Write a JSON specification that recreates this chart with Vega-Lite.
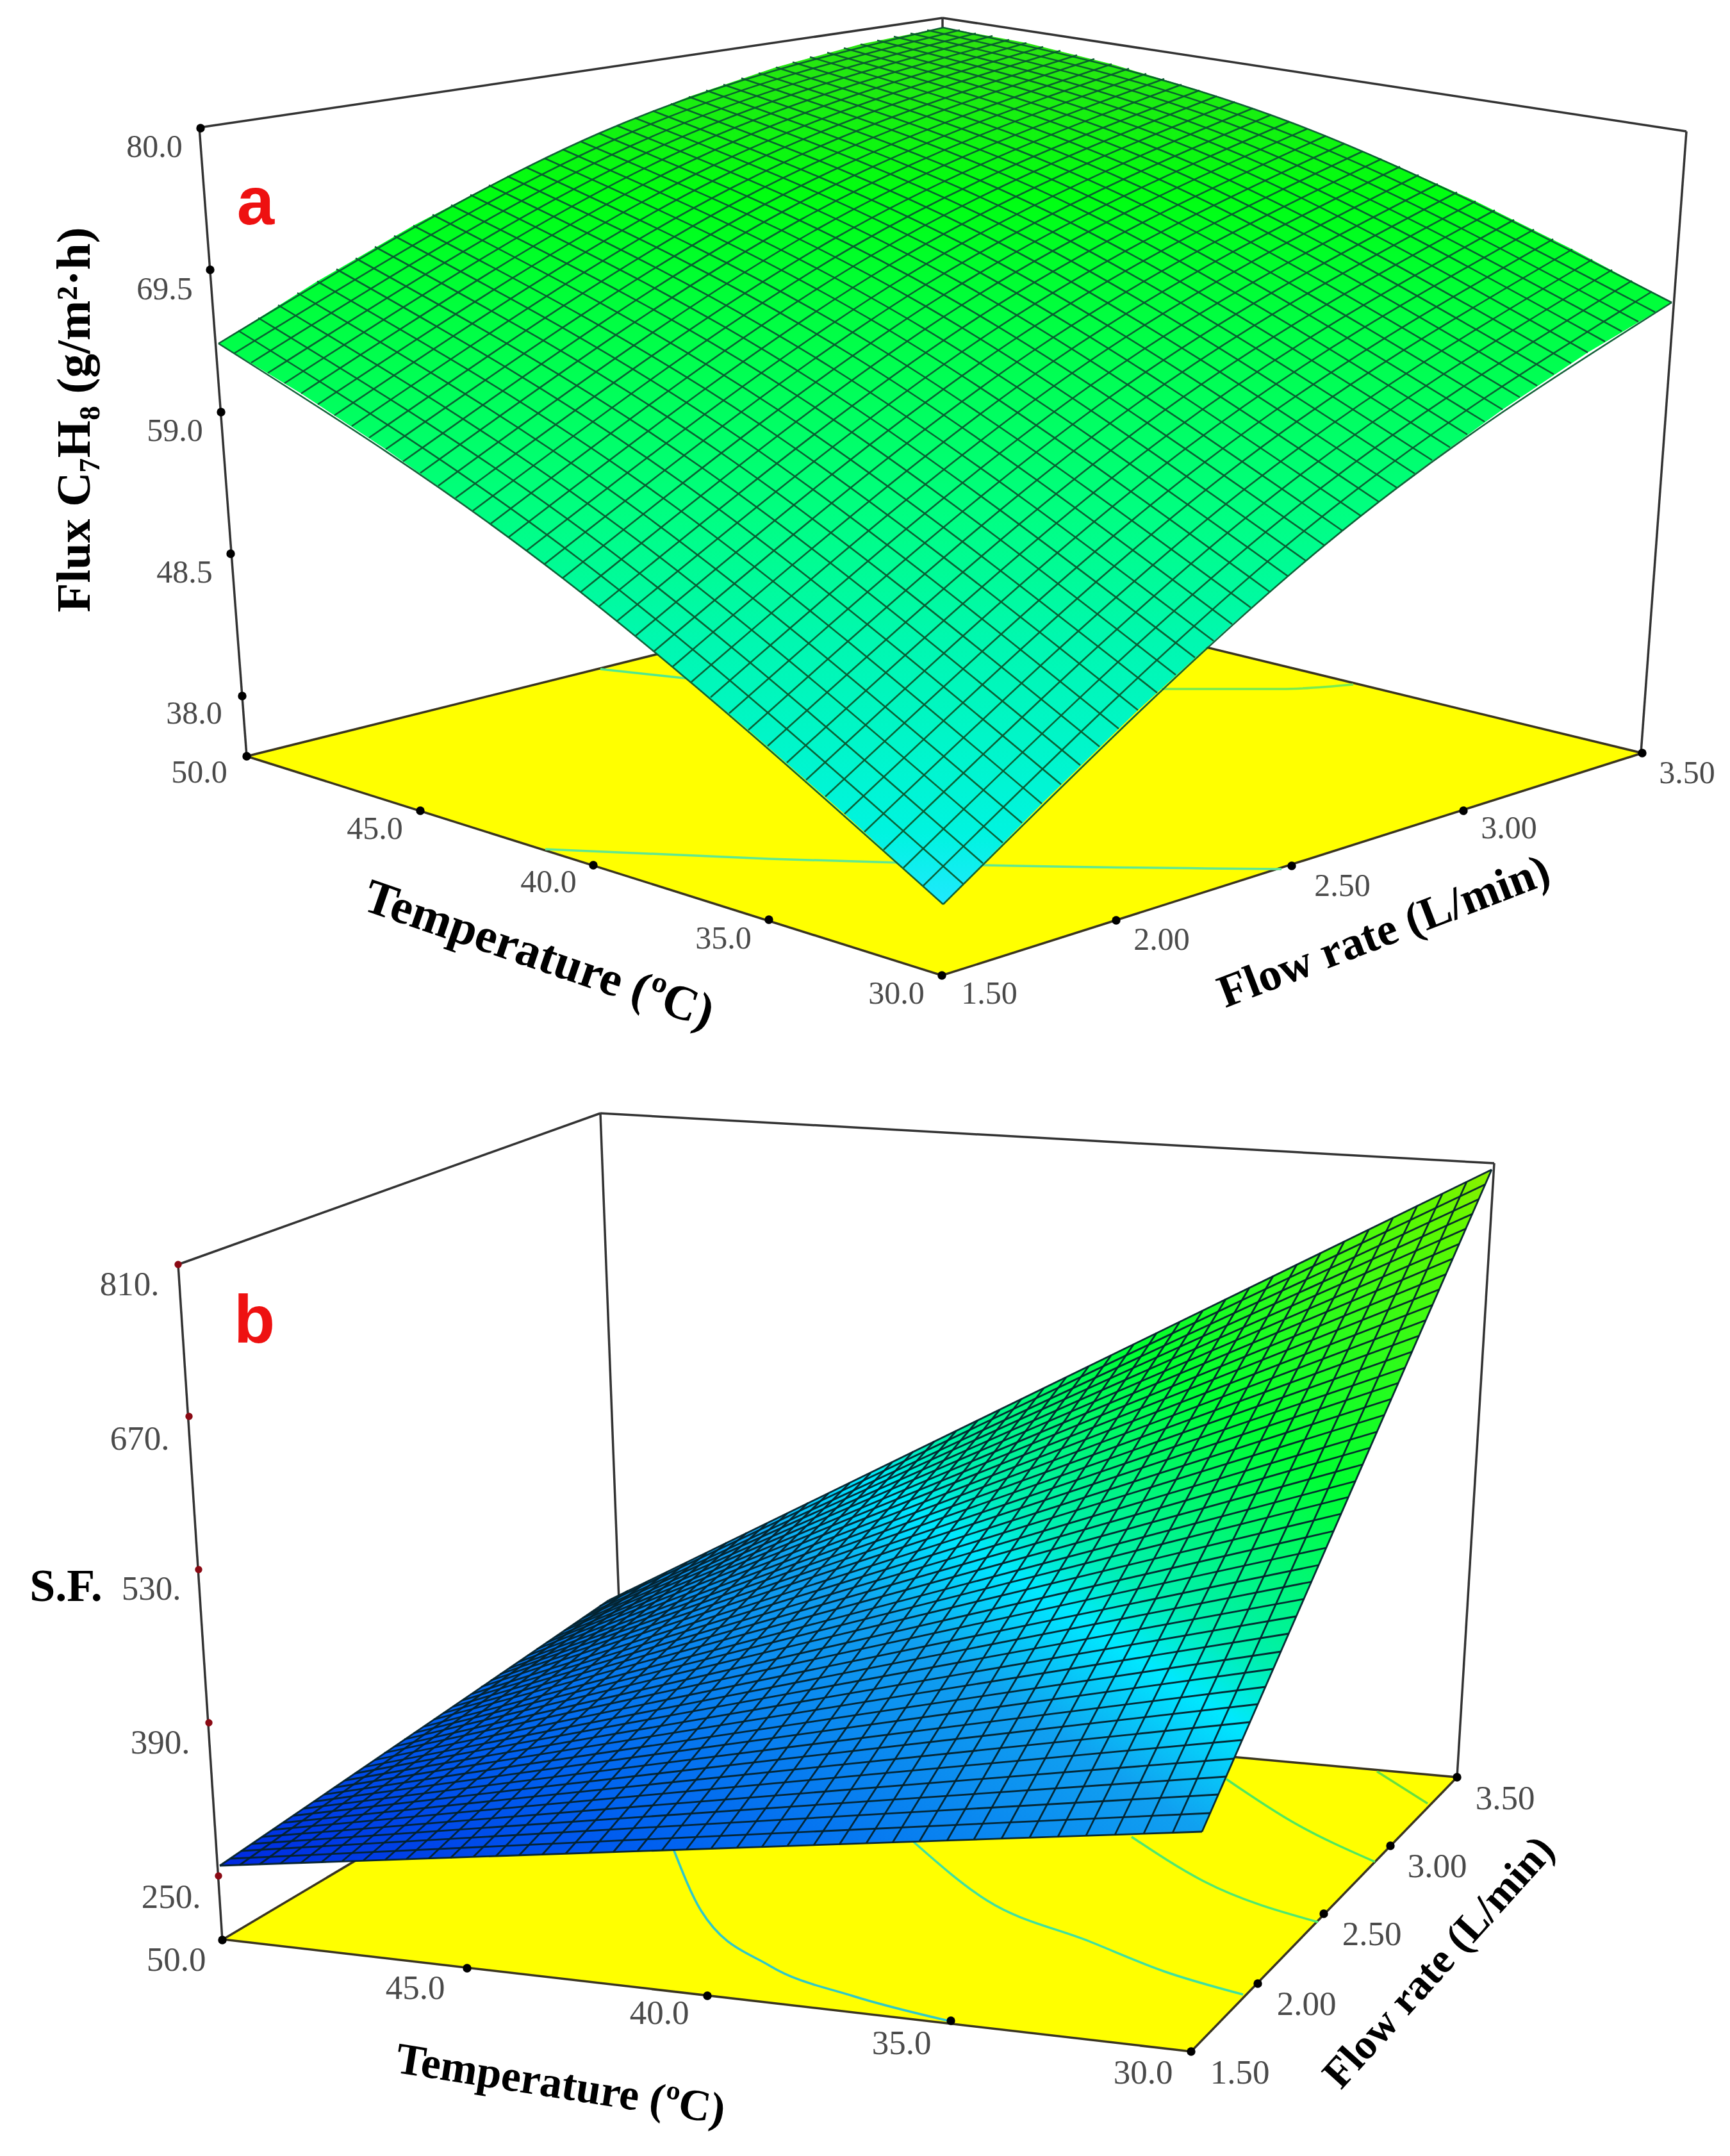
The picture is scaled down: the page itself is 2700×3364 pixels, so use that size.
{
"$schema":"https://vega.github.io/schema/vega-lite/v6.json",
"width":2700,"height":3364,"autosize":{"type":"fit","contains":"padding"},"padding":0,"background":"white",
"config":{"view":{"stroke":null}},
"datasets":{
"box":[
{"l":1,"x":311,"y":199},{"l":1,"x":385,"y":1180},
{"l":2,"x":311,"y":199},{"l":2,"x":1471,"y":28},
{"l":3,"x":1471,"y":28},{"l":3,"x":2632,"y":205},
{"l":4,"x":2632,"y":205},{"l":4,"x":2561,"y":1175},
{"l":5,"x":1471,"y":28},{"l":5,"x":1471,"y":910},
{"l":6,"x":278,"y":1973},{"l":6,"x":347,"y":3027},
{"l":7,"x":278,"y":1973},{"l":7,"x":937,"y":1737},
{"l":8,"x":937,"y":1737},{"l":8,"x":2332,"y":1815},
{"l":9,"x":2332,"y":1815},{"l":9,"x":2274,"y":2773},
{"l":10,"x":937,"y":1737},{"l":10,"x":972,"y":2655}],
"floor":[
{"l":1,"x":385,"y":1180},{"l":1,"x":1471,"y":910},{"l":1,"x":2563,"y":1175},{"l":1,"x":1470,"y":1522},{"l":1,"x":385,"y":1180},
{"l":2,"x":348,"y":3026},{"l":2,"x":972,"y":2655},{"l":2,"x":2274,"y":2773},{"l":2,"x":1859,"y":3201},{"l":2,"x":348,"y":3026}],
"contour":[
{"l":"a1","x":851,"y":1325},{"l":"a1","x":1200,"y":1340},{"l":"a1","x":1538,"y":1350},{"l":"a1","x":2000,"y":1356},
{"l":"a2","x":937,"y":1044},{"l":"a2","x":1105,"y":1062},
{"l":"a3","x":1813,"y":1075},{"l":"a3","x":2000,"y":1075},{"l":"a3","x":2112,"y":1068},
{"l":"b1","x":1051,"y":2885},{"l":"b1","x":1094,"y":2981},{"l":"b1","x":1201,"y":3067},{"l":"b1","x":1330,"y":3114},{"l":"b1","x":1480,"y":3153},
{"l":"b2","x":1426,"y":2874},{"l":"b2","x":1540,"y":2965},{"l":"b2","x":1700,"y":3029},{"l":"b2","x":1817,"y":3076},{"l":"b2","x":1940,"y":3112},
{"l":"b3","x":1766,"y":2866},{"l":"b3","x":1878,"y":2935},{"l":"b3","x":2057,"y":2999},
{"l":"b4","x":1914,"y":2776},{"l":"b4","x":2016,"y":2842},{"l":"b4","x":2146,"y":2905},
{"l":"b5","x":2149,"y":2764},{"l":"b5","x":2228,"y":2814}],
"outlineA":[{"x":341,"y":536},{"x":495,"y":439},{"x":645,"y":352},{"x":792,"y":275},{"x":935,"y":208},{"x":1075,"y":151},{"x":1211,"y":105},{"x":1343,"y":69},{"x":1472,"y":43},{"x":1602,"y":67},{"x":1735,"y":100},{"x":1872,"y":141},{"x":2012,"y":190},{"x":2156,"y":248},{"x":2303,"y":314},{"x":2454,"y":389},{"x":2609,"y":472},{"x":2478,"y":550},{"x":2345,"y":639},{"x":2208,"y":739},{"x":2067,"y":851},{"x":1923,"y":974},{"x":1776,"y":1108},{"x":1626,"y":1254},{"x":1472,"y":1411},{"x":1318,"y":1270},{"x":1168,"y":1139},{"x":1021,"y":1016},{"x":878,"y":902},{"x":738,"y":797},{"x":602,"y":701},{"x":470,"y":614},{"x":341,"y":536}],
"outlineB":[{"x":343,"y":2911},{"x":950,"y":2497},{"x":2328,"y":1825},{"x":1876,"y":2858},{"x":343,"y":2911}],
"meshA":[
{"l":0,"x":[1472,878,341],"y":[1411,902,536]},
{"l":1,"x":[1503,909,372],"y":[1379,876,516]},
{"l":2,"x":[1534,940,403],"y":[1347,850,496]},
{"l":3,"x":[1565,971,434],"y":[1315,825,476]},
{"l":4,"x":[1595,1001,464],"y":[1284,800,457]},
{"l":5,"x":[1626,1032,495],"y":[1254,775,439]},
{"l":6,"x":[1656,1062,525],"y":[1224,751,420]},
{"l":7,"x":[1686,1093,555],"y":[1194,728,403]},
{"l":8,"x":[1716,1123,585],"y":[1165,705,385]},
{"l":9,"x":[1746,1153,615],"y":[1137,682,368]},
{"l":10,"x":[1776,1183,645],"y":[1108,660,352]},
{"l":11,"x":[1806,1212,675],"y":[1081,638,335]},
{"l":12,"x":[1835,1242,704],"y":[1053,616,320]},
{"l":13,"x":[1865,1271,734],"y":[1026,595,304]},
{"l":14,"x":[1894,1300,763],"y":[1000,575,289]},
{"l":15,"x":[1923,1329,792],"y":[974,554,275]},
{"l":16,"x":[1952,1358,821],"y":[948,535,261]},
{"l":17,"x":[1981,1387,850],"y":[923,515,247]},
{"l":18,"x":[2010,1416,878],"y":[899,497,233]},
{"l":19,"x":[2038,1445,907],"y":[875,478,221]},
{"l":20,"x":[2067,1473,935],"y":[851,460,208]},
{"l":21,"x":[2095,1501,963],"y":[828,442,196]},
{"l":22,"x":[2124,1529,991],"y":[805,425,184]},
{"l":23,"x":[2152,1557,1019],"y":[783,409,173]},
{"l":24,"x":[2180,1585,1047],"y":[761,392,162]},
{"l":25,"x":[2208,1613,1075],"y":[739,376,151]},
{"l":26,"x":[2235,1641,1102],"y":[718,361,141]},
{"l":27,"x":[2263,1668,1129],"y":[698,346,132]},
{"l":28,"x":[2290,1695,1157],"y":[678,331,122]},
{"l":29,"x":[2317,1722,1184],"y":[658,317,114]},
{"l":30,"x":[2345,1750,1211],"y":[639,304,105]},
{"l":31,"x":[2372,1776,1237],"y":[620,290,97]},
{"l":32,"x":[2399,1803,1264],"y":[602,277,89]},
{"l":33,"x":[2425,1830,1291],"y":[584,265,82]},
{"l":34,"x":[2452,1856,1317],"y":[567,253,75]},
{"l":35,"x":[2478,1883,1343],"y":[550,241,69]},
{"l":36,"x":[2505,1909,1369],"y":[533,230,63]},
{"l":37,"x":[2531,1935,1395],"y":[517,220,57]},
{"l":38,"x":[2557,1961,1421],"y":[502,209,52]},
{"l":39,"x":[2583,1986,1447],"y":[487,199,47]},
{"l":40,"x":[2609,2012,1472],"y":[472,190,43]},
{"l":100,"x":[1472,2067,2609],"y":[1411,851,472]},
{"l":101,"x":[1441,2036,2578],"y":[1382,828,455]},
{"l":102,"x":[1410,2005,2547],"y":[1354,806,438]},
{"l":103,"x":[1379,1974,2516],"y":[1326,784,421]},
{"l":104,"x":[1349,1944,2485],"y":[1298,762,405]},
{"l":105,"x":[1318,1913,2454],"y":[1270,740,389]},
{"l":106,"x":[1288,1883,2424],"y":[1243,719,373]},
{"l":107,"x":[1258,1853,2394],"y":[1217,698,358]},
{"l":108,"x":[1228,1823,2363],"y":[1190,678,343]},
{"l":109,"x":[1198,1793,2333],"y":[1164,658,328]},
{"l":110,"x":[1168,1763,2303],"y":[1139,638,314]},
{"l":111,"x":[1138,1733,2274],"y":[1113,619,300]},
{"l":112,"x":[1109,1704,2244],"y":[1088,600,287]},
{"l":113,"x":[1079,1675,2214],"y":[1064,581,273]},
{"l":114,"x":[1050,1645,2185],"y":[1040,563,260]},
{"l":115,"x":[1021,1616,2156],"y":[1016,545,248]},
{"l":116,"x":[992,1587,2127],"y":[992,527,236]},
{"l":117,"x":[963,1559,2098],"y":[969,510,224]},
{"l":118,"x":[935,1530,2069],"y":[946,493,212]},
{"l":119,"x":[906,1501,2040],"y":[924,476,201]},
{"l":120,"x":[878,1473,2012],"y":[902,460,190]},
{"l":121,"x":[850,1445,1984],"y":[880,444,179]},
{"l":122,"x":[822,1417,1955],"y":[859,429,169]},
{"l":123,"x":[794,1389,1927],"y":[838,413,159]},
{"l":124,"x":[766,1361,1899],"y":[817,398,150]},
{"l":125,"x":[738,1333,1872],"y":[797,384,141]},
{"l":126,"x":[711,1306,1844],"y":[777,370,132]},
{"l":127,"x":[684,1278,1817],"y":[758,356,123]},
{"l":128,"x":[656,1251,1789],"y":[738,342,115]},
{"l":129,"x":[629,1224,1762],"y":[720,329,107]},
{"l":130,"x":[602,1197,1735],"y":[701,317,100]},
{"l":131,"x":[576,1170,1708],"y":[683,304,92]},
{"l":132,"x":[549,1144,1681],"y":[665,292,86]},
{"l":133,"x":[522,1117,1655],"y":[648,280,79]},
{"l":134,"x":[496,1091,1628],"y":[631,269,73]},
{"l":135,"x":[470,1064,1602],"y":[614,258,67]},
{"l":136,"x":[444,1038,1575],"y":[598,247,62]},
{"l":137,"x":[418,1012,1549],"y":[582,237,56]},
{"l":138,"x":[392,986,1523],"y":[566,227,52]},
{"l":139,"x":[366,961,1498],"y":[551,217,47]},
{"l":140,"x":[341,935,1472],"y":[536,208,43]}],
"meshB":[
{"l":0,"x":[343,1876],"y":[2911,2858]},
{"l":1,"x":[360,1889],"y":[2900,2829]},
{"l":2,"x":[376,1901],"y":[2888,2800]},
{"l":3,"x":[393,1914],"y":[2877,2772]},
{"l":4,"x":[409,1926],"y":[2866,2744]},
{"l":5,"x":[425,1938],"y":[2855,2715]},
{"l":6,"x":[442,1951],"y":[2844,2687]},
{"l":7,"x":[458,1963],"y":[2833,2659]},
{"l":8,"x":[474,1975],"y":[2822,2632]},
{"l":9,"x":[490,1987],"y":[2811,2604]},
{"l":10,"x":[506,1999],"y":[2800,2577]},
{"l":11,"x":[522,2011],"y":[2789,2549]},
{"l":12,"x":[538,2023],"y":[2778,2522]},
{"l":13,"x":[554,2035],"y":[2767,2495]},
{"l":14,"x":[569,2047],"y":[2757,2468]},
{"l":15,"x":[585,2058],"y":[2746,2442]},
{"l":16,"x":[600,2070],"y":[2735,2415]},
{"l":17,"x":[616,2081],"y":[2725,2389]},
{"l":18,"x":[631,2093],"y":[2714,2362]},
{"l":19,"x":[646,2104],"y":[2704,2336]},
{"l":20,"x":[662,2116],"y":[2694,2311]},
{"l":21,"x":[677,2127],"y":[2683,2285]},
{"l":22,"x":[692,2138],"y":[2673,2259]},
{"l":23,"x":[707,2149],"y":[2663,2234]},
{"l":24,"x":[722,2160],"y":[2653,2208]},
{"l":25,"x":[737,2171],"y":[2643,2183]},
{"l":26,"x":[751,2182],"y":[2632,2158]},
{"l":27,"x":[766,2193],"y":[2622,2134]},
{"l":28,"x":[781,2204],"y":[2612,2109]},
{"l":29,"x":[795,2215],"y":[2603,2084]},
{"l":30,"x":[810,2225],"y":[2593,2060]},
{"l":31,"x":[824,2236],"y":[2583,2036]},
{"l":32,"x":[838,2246],"y":[2573,2012]},
{"l":33,"x":[853,2257],"y":[2563,1988]},
{"l":34,"x":[867,2267],"y":[2554,1964]},
{"l":35,"x":[881,2277],"y":[2544,1941]},
{"l":36,"x":[895,2288],"y":[2535,1917]},
{"l":37,"x":[909,2298],"y":[2525,1894]},
{"l":38,"x":[923,2308],"y":[2516,1871]},
{"l":39,"x":[936,2318],"y":[2506,1848]},
{"l":40,"x":[950,2328],"y":[2497,1825]},
{"l":100,"x":[343,950],"y":[2911,2497]},
{"l":101,"x":[374,980],"y":[2910,2482]},
{"l":102,"x":[405,1010],"y":[2909,2468]},
{"l":103,"x":[437,1041],"y":[2908,2453]},
{"l":104,"x":[469,1072],"y":[2907,2438]},
{"l":105,"x":[501,1103],"y":[2906,2423]},
{"l":106,"x":[534,1134],"y":[2904,2407]},
{"l":107,"x":[567,1165],"y":[2903,2392]},
{"l":108,"x":[601,1197],"y":[2902,2377]},
{"l":109,"x":[634,1229],"y":[2901,2361]},
{"l":110,"x":[669,1261],"y":[2900,2345]},
{"l":111,"x":[703,1293],"y":[2899,2330]},
{"l":112,"x":[739,1326],"y":[2897,2314]},
{"l":113,"x":[774,1359],"y":[2896,2298]},
{"l":114,"x":[810,1392],"y":[2895,2282]},
{"l":115,"x":[846,1425],"y":[2894,2265]},
{"l":116,"x":[883,1458],"y":[2892,2249]},
{"l":117,"x":[920,1492],"y":[2891,2233]},
{"l":118,"x":[957,1526],"y":[2890,2216]},
{"l":119,"x":[995,1560],"y":[2888,2200]},
{"l":120,"x":[1033,1594],"y":[2887,2183]},
{"l":121,"x":[1071,1629],"y":[2886,2166]},
{"l":122,"x":[1110,1664],"y":[2884,2149]},
{"l":123,"x":[1150,1699],"y":[2883,2132]},
{"l":124,"x":[1189,1734],"y":[2882,2115]},
{"l":125,"x":[1229,1769],"y":[2880,2098]},
{"l":126,"x":[1270,1805],"y":[2879,2080]},
{"l":127,"x":[1310,1841],"y":[2878,2063]},
{"l":128,"x":[1352,1877],"y":[2876,2045]},
{"l":129,"x":[1393,1913],"y":[2875,2027]},
{"l":130,"x":[1435,1950],"y":[2873,2009]},
{"l":131,"x":[1478,1987],"y":[2872,1991]},
{"l":132,"x":[1520,2024],"y":[2870,1973]},
{"l":133,"x":[1563,2061],"y":[2869,1955]},
{"l":134,"x":[1607,2098],"y":[2867,1937]},
{"l":135,"x":[1651,2136],"y":[2866,1919]},
{"l":136,"x":[1695,2174],"y":[2864,1900]},
{"l":137,"x":[1740,2212],"y":[2863,1881]},
{"l":138,"x":[1785,2251],"y":[2861,1863]},
{"l":139,"x":[1830,2289],"y":[2860,1844]},
{"l":140,"x":[1876,2328],"y":[2858,1825]}],
"ticksBlack":[
{"x":313,"y":200},{"x":328,"y":421},{"x":345,"y":643},{"x":360,"y":864},{"x":378,"y":1086},{"x":385,"y":1180},
{"x":656,"y":1265},{"x":926,"y":1350},{"x":1200,"y":1435},{"x":1470,"y":1522},{"x":1742,"y":1436},{"x":2016,"y":1351},{"x":2284,"y":1265},{"x":2563,"y":1175},
{"x":347,"y":3027},{"x":729,"y":3071},{"x":1104,"y":3114},{"x":1484,"y":3153},{"x":1859,"y":3201},{"x":1963,"y":3095},{"x":2066,"y":2986},{"x":2170,"y":2880},{"x":2274,"y":2773}],
"ticksRed":[{"x":278,"y":1973},{"x":295,"y":2210},{"x":310,"y":2449},{"x":326,"y":2688},{"x":341,"y":2927}],
"labelsA":[
{"x":241,"y":230,"t":"80.0"},{"x":257,"y":452,"t":"69.5"},{"x":273,"y":673,"t":"59.0"},{"x":288,"y":894,"t":"48.5"},{"x":303,"y":1114,"t":"38.0"},{"x":311,"y":1206,"t":"50.0"},
{"x":585,"y":1294,"t":"45.0"},{"x":856,"y":1377,"t":"40.0"},{"x":1129,"y":1465,"t":"35.0"},{"x":1399,"y":1551,"t":"30.0"},
{"x":1544,"y":1551,"t":"1.50"},{"x":1813,"y":1467,"t":"2.00"},{"x":2095,"y":1383,"t":"2.50"},{"x":2355,"y":1293,"t":"3.00"},{"x":2633,"y":1207,"t":"3.50"}],
"labelsB":[
{"x":202,"y":2005,"t":"810."},{"x":218,"y":2246,"t":"670."},{"x":236,"y":2480,"t":"530."},{"x":250,"y":2720,"t":"390."},{"x":267,"y":2961,"t":"250."},{"x":275,"y":3059,"t":"50.0"},
{"x":648,"y":3103,"t":"45.0"},{"x":1029,"y":3142,"t":"40.0"},{"x":1407,"y":3189,"t":"35.0"},{"x":1784,"y":3235,"t":"30.0"},
{"x":1935,"y":3235,"t":"1.50"},{"x":2039,"y":3128,"t":"2.00"},{"x":2141,"y":3019,"t":"2.50"},{"x":2243,"y":2913,"t":"3.00"},{"x":2349,"y":2807,"t":"3.50"}]
},
"encoding":{
"x":{"field":"x","type":"quantitative","scale":{"domain":[0,2700],"nice":false,"zero":false},"axis":null},
"y":{"field":"y","type":"quantitative","scale":{"domain":[0,3364],"reverse":true,"nice":false,"zero":false},"axis":null}
},
"layer":[
{"data":{"name":"box"},"mark":{"type":"line","stroke":"#333333","strokeWidth":3.5},"encoding":{"detail":{"field":"l"}}},
{"data":{"name":"floor"},"transform":[{"window":[{"op":"row_number","as":"r"}]}],"mark":{"type":"line","fill":"#ffff00","stroke":"#3a3520","strokeWidth":3.5},"encoding":{"detail":{"field":"l"},"order":{"field":"r"}}},
{"data":{"name":"contour"},"mark":{"type":"line","strokeWidth":3.5,"interpolate":"monotone"},"encoding":{"color":{"field":"l","type":"nominal","legend":null,"scale":{"domain":["a1","a2","a3","b1","b2","b3","b4","b5"],"range":["#60e890","#50e890","#78ec50","#30c8c8","#40e0a0","#50e870","#50e860","#66e040"]}}}},
{"data":{"name":"outlineA"},"transform":[{"window":[{"op":"row_number","as":"r"}]}],"mark":{"type":"line","strokeWidth":0,"fill":{"gradient":"linear","x1":0,"y1":0,"x2":0,"y2":1,"stops":[{"offset":0,"color":"#30e010"},{"offset":0.19,"color":"#00ff10"},{"offset":0.33,"color":"#00ff40"},{"offset":0.55,"color":"#00ff80"},{"offset":0.7,"color":"#00f8b0"},{"offset":0.92,"color":"#00f4e0"},{"offset":1,"color":"#20e8ff"}]}},"encoding":{"order":{"field":"r"}}},
{"data":{"name":"outlineB"},"transform":[{"window":[{"op":"row_number","as":"r"}]}],"mark":{"type":"line","strokeWidth":0,"fill":{"gradient":"linear","x1":0,"y1":1,"x2":1.085,"y2":0.102,"stops":[{"offset":0,"color":"#0028e0"},{"offset":0.2,"color":"#0060f0"},{"offset":0.445,"color":"#10a0f0"},{"offset":0.53,"color":"#00e8ff"},{"offset":0.58,"color":"#00f0b0"},{"offset":0.73,"color":"#00ff30"},{"offset":0.95,"color":"#60f800"},{"offset":1,"color":"#90f000"}]}},"encoding":{"order":{"field":"r"}}},
{"data":{"name":"meshA"},"transform":[{"flatten":["x","y"]},{"window":[{"op":"row_number","as":"r"}]}],"mark":{"type":"line","interpolate":"natural","stroke":"#0a5a30","strokeWidth":2.6,"strokeOpacity":0.95},"encoding":{"detail":{"field":"l"},"order":{"field":"r"}}},
{"data":{"name":"meshB"},"transform":[{"flatten":["x","y"]},{"window":[{"op":"row_number","as":"r"}]}],"mark":{"type":"line","stroke":"#04222c","strokeWidth":2.8,"strokeOpacity":0.95},"encoding":{"detail":{"field":"l"},"order":{"field":"r"}}},
{"data":{"name":"ticksBlack"},"mark":{"type":"point","filled":true,"shape":"circle","size":180,"color":"#000000","opacity":1}},
{"data":{"name":"ticksRed"},"mark":{"type":"point","filled":true,"shape":"circle","size":130,"color":"#8b0a14","opacity":1}},
{"data":{"name":"labelsA"},"mark":{"type":"text","font":"Liberation Serif","fontSize":50,"fill":"#4a4a4a","align":"center","baseline":"middle"},"encoding":{"text":{"field":"t"}}},
{"data":{"name":"labelsB"},"mark":{"type":"text","font":"Liberation Serif","fontSize":53,"fill":"#4a4a4a","align":"center","baseline":"middle"},"encoding":{"text":{"field":"t"}}},
{"data":{"values":[{"x":117,"y":655,"t":"Flux C₇H₈ (g/m²·h)"}]},"mark":{"type":"text","font":"Liberation Serif","fontWeight":"bold","fontSize":75,"fill":"#000000","angle":270,"align":"center","baseline":"middle"},"encoding":{"text":{"field":"t"}}},
{"data":{"values":[{"x":841,"y":1490,"t":"Temperature (ºC)"}]},"mark":{"type":"text","font":"Liberation Serif","fontWeight":"bold","fontSize":76,"fill":"#000000","angle":19,"align":"center","baseline":"middle"},"encoding":{"text":{"field":"t"}}},
{"data":{"values":[{"x":2160,"y":1454,"t":"Flow rate (L/min)"}]},"mark":{"type":"text","font":"Liberation Serif","fontWeight":"bold","fontSize":72,"fill":"#000000","angle":339,"align":"center","baseline":"middle"},"encoding":{"text":{"field":"t"}}},
{"data":{"values":[{"x":103,"y":2476,"t":"S.F."}]},"mark":{"type":"text","font":"Liberation Serif","fontWeight":"bold","fontSize":72,"fill":"#000000","align":"center","baseline":"middle"},"encoding":{"text":{"field":"t"}}},
{"data":{"values":[{"x":875,"y":3253,"t":"Temperature (ºC)"}]},"mark":{"type":"text","font":"Liberation Serif","fontWeight":"bold","fontSize":69,"fill":"#000000","angle":9,"align":"center","baseline":"middle"},"encoding":{"text":{"field":"t"}}},
{"data":{"values":[{"x":2246,"y":3062,"t":"Flow rate (L/min)"}]},"mark":{"type":"text","font":"Liberation Serif","fontWeight":"bold","fontSize":66,"fill":"#000000","angle":312,"align":"center","baseline":"middle"},"encoding":{"text":{"field":"t"}}},
{"data":{"values":[{"x":399,"y":318,"t":"a"},{"x":397,"y":2063,"t":"b"}]},"mark":{"type":"text","font":"Liberation Sans","fontWeight":"bold","fontSize":105,"fill":"#ee1111","align":"center","baseline":"middle"},"encoding":{"text":{"field":"t"}}}
]
}
